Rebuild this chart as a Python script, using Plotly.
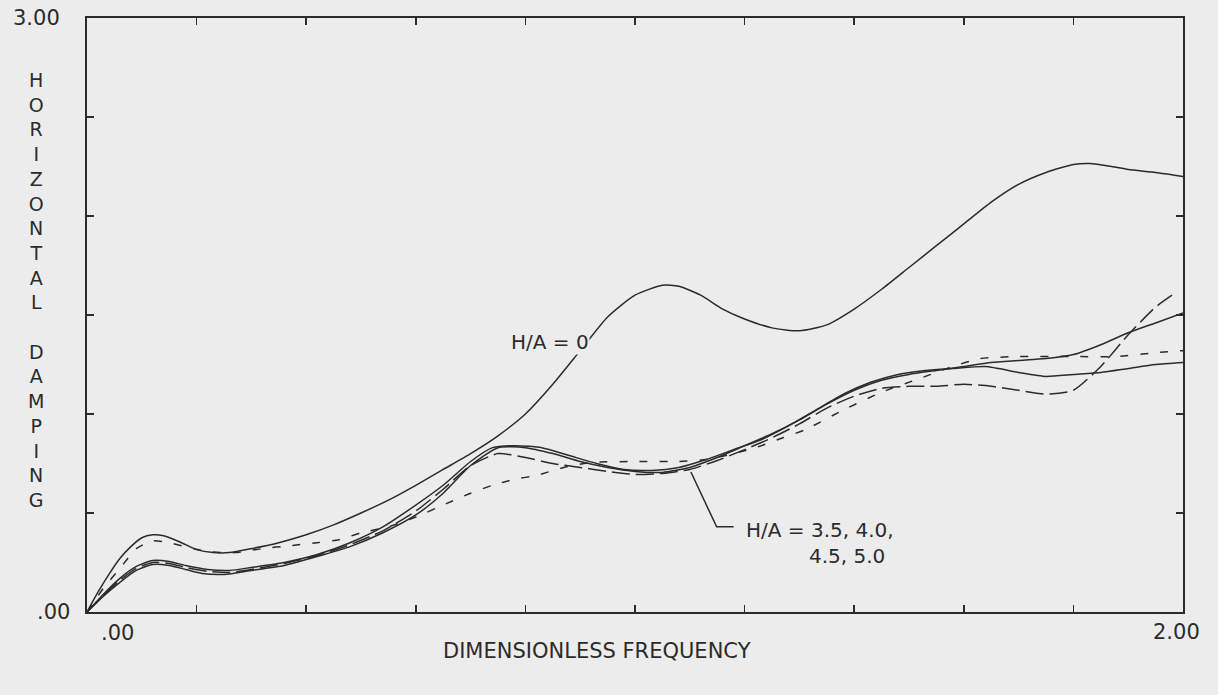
import plotly.graph_objects as go

# ---- data ----
x_h0 = [0.00, 0.02, 0.04, 0.06, 0.08, 0.10, 0.12, 0.14, 0.16, 0.18, 0.20, 0.23, 0.26, 0.30, 0.35,
        0.40, 0.45, 0.50, 0.55, 0.60, 0.65, 0.70, 0.75, 0.80, 0.85, 0.90, 0.95, 1.00, 1.05, 1.08,
        1.12, 1.16, 1.20, 1.25, 1.30, 1.35, 1.40, 1.45, 1.50, 1.55, 1.60, 1.65, 1.70, 1.75, 1.80,
        1.83, 1.87, 1.90, 1.95, 2.00]
y_h0 = [0.00, 0.10, 0.19, 0.27, 0.33, 0.375, 0.39, 0.385, 0.365, 0.34, 0.315, 0.30, 0.30, 0.32, 0.35,
        0.39, 0.44, 0.50, 0.565, 0.64, 0.72, 0.80, 0.89, 1.00, 1.15, 1.32, 1.49, 1.60, 1.65, 1.645,
        1.60, 1.53, 1.48, 1.435, 1.42, 1.45, 1.53, 1.63, 1.74, 1.85, 1.96, 2.07, 2.16, 2.22, 2.26,
        2.265, 2.25, 2.235, 2.22, 2.20]

x_h35 = [0.00, 0.03, 0.06, 0.09, 0.12, 0.15, 0.18, 0.21, 0.25, 0.30, 0.36, 0.42, 0.48, 0.54, 0.60,
         0.65, 0.70, 0.75, 0.80, 0.85, 0.90, 0.95, 1.00, 1.05, 1.10, 1.15, 1.20, 1.25, 1.30, 1.35,
         1.40, 1.45, 1.50, 1.55, 1.60, 1.65, 1.70, 1.75, 1.80, 1.85, 1.90, 1.95, 2.00]
y_h35 = [0.00, 0.08, 0.15, 0.21, 0.24, 0.235, 0.215, 0.195, 0.19, 0.21, 0.235, 0.28, 0.33, 0.40, 0.49,
         0.60, 0.74, 0.83, 0.83, 0.80, 0.76, 0.73, 0.71, 0.705, 0.73, 0.78, 0.84, 0.90, 0.97, 1.05,
         1.12, 1.17, 1.20, 1.22, 1.24, 1.26, 1.27, 1.28, 1.30, 1.35, 1.41, 1.46, 1.51]

x_h40 = [0.00, 0.03, 0.06, 0.09, 0.12, 0.15, 0.18, 0.22, 0.27, 0.32, 0.37, 0.42, 0.46, 0.50, 0.55,
         0.60, 0.65, 0.70, 0.74, 0.78, 0.82, 0.87, 0.92, 1.00, 1.08, 1.13, 1.18, 1.22, 1.27, 1.31,
         1.38, 1.45, 1.52, 1.58, 1.63, 1.70, 1.80, 1.88, 1.95, 2.00]
y_h40 = [0.00, 0.12, 0.22, 0.32, 0.36, 0.35, 0.33, 0.305, 0.30, 0.32, 0.335, 0.35, 0.365, 0.40, 0.43,
         0.48, 0.54, 0.60, 0.64, 0.67, 0.69, 0.73, 0.755, 0.76, 0.76, 0.77, 0.80, 0.83, 0.88, 0.92,
         1.02, 1.11, 1.18, 1.24, 1.28, 1.29, 1.29, 1.29, 1.31, 1.32]

x_h45 = [0.00, 0.03, 0.06, 0.09, 0.12, 0.15, 0.18, 0.22, 0.26, 0.30, 0.36, 0.42, 0.48, 0.54, 0.60,
         0.65, 0.70, 0.74, 0.78, 0.83, 0.88, 0.93, 0.98, 1.03, 1.08, 1.13, 1.18, 1.23, 1.28, 1.33,
         1.38, 1.43, 1.48, 1.53, 1.58, 1.64, 1.70, 1.75, 1.80, 1.85, 1.90, 1.95, 2.00]
y_h45 = [0.00, 0.09, 0.17, 0.23, 0.26, 0.255, 0.235, 0.215, 0.21, 0.225, 0.25, 0.29, 0.35, 0.43, 0.54,
         0.64, 0.76, 0.83, 0.84, 0.83, 0.79, 0.75, 0.72, 0.715, 0.73, 0.77, 0.82, 0.87, 0.94, 1.02,
         1.10, 1.16, 1.20, 1.22, 1.23, 1.24, 1.21, 1.19, 1.20, 1.21, 1.23, 1.25, 1.26]

x_h50 = [0.00, 0.03, 0.06, 0.09, 0.12, 0.15, 0.18, 0.22, 0.26, 0.30, 0.36, 0.42, 0.48, 0.54, 0.60,
         0.65, 0.70, 0.75, 0.80, 0.85, 0.90, 0.95, 1.00, 1.05, 1.10, 1.15, 1.20, 1.25, 1.30, 1.35,
         1.40, 1.45, 1.50, 1.55, 1.60, 1.65, 1.70, 1.75, 1.80, 1.85, 1.90, 1.95, 1.98]
y_h50 = [0.00, 0.085, 0.16, 0.22, 0.25, 0.245, 0.225, 0.205, 0.20, 0.215, 0.245, 0.285, 0.34, 0.41, 0.51,
         0.62, 0.74, 0.80, 0.78, 0.75, 0.73, 0.71, 0.695, 0.70, 0.72, 0.765, 0.82, 0.88, 0.95, 1.03,
         1.09, 1.13, 1.14, 1.14, 1.15, 1.14, 1.12, 1.10, 1.12, 1.24, 1.40, 1.54, 1.60]

# leader line for the H/A = 3.5 ... 5.0 label
leader_x = [1.102, 1.149, 1.18]
leader_y = [0.707, 0.43, 0.43]

x_ticks = [0.0, 0.2, 0.4, 0.6, 0.8, 1.0, 1.2, 1.4, 1.6, 1.8, 2.0]
y_ticks = [0.0, 0.5, 1.0, 1.5, 2.0, 2.5, 3.0]

INK = "#2b2b2b"
BG = "#ececec"
FONT = "DejaVu Sans"

fig = go.Figure()

series = [
    (x_h0, y_h0, "solid"),
    (x_h35, y_h35, "solid"),
    (x_h40, y_h40, "8px,12px"),
    (x_h45, y_h45, "solid"),
    (x_h50, y_h50, "18px,6px"),
]
for xs, ys, dash in series:
    fig.add_trace(go.Scatter(x=xs, y=ys, mode="lines", showlegend=False,
                             line=dict(color=INK, width=1.5, dash=dash, shape="spline", smoothing=0.6),
                             hoverinfo="skip"))

fig.add_trace(go.Scatter(x=leader_x, y=leader_y, mode="lines", showlegend=False,
                         line=dict(color=INK, width=1.5), hoverinfo="skip"))

axis_common = dict(showline=True, linecolor=INK, linewidth=2, mirror="ticks", ticks="inside",
                   ticklen=7, tickwidth=1.5, tickcolor=INK, showgrid=False, zeroline=False,
                   showticklabels=False, fixedrange=True)

fig.update_xaxes(range=[0, 2], tickvals=x_ticks, **axis_common)
fig.update_yaxes(range=[0, 3], tickvals=y_ticks, **axis_common)

tick_font = dict(family=FONT, size=21, color=INK)
label_font = dict(family=FONT, size=19, color=INK)
note_font = dict(family=FONT, size=20, color=INK)

annotations = [
    dict(text="3.00", x=-0.0228, y=1.0, xanchor="right", yanchor="middle", font=tick_font),
    dict(text=".00", x=-0.0137, y=0.0, xanchor="right", yanchor="middle", font=tick_font),
    dict(text=".00", x=0.028, y=-0.035, xanchor="center", yanchor="middle", font=tick_font),
    dict(text="2.00", x=0.9945, y=-0.034, xanchor="center", yanchor="middle", font=tick_font),
    dict(text="DIMENSIONLESS FREQUENCY", x=0.465, y=-0.066, xanchor="center", yanchor="middle",
         font=dict(family=FONT, size=21, color=INK)),
    dict(text="<br>".join(list("HORIZONTAL") + [""] + list("DAMPING")), x=-0.0465, y=0.542,
         xanchor="center", yanchor="middle", align="center", font=label_font),
]
for a in annotations:
    a.update(xref="paper", yref="paper", showarrow=False)

fig.add_annotation(text="H/A = 0", x=0.918, y=1.364, xref="x", yref="y", xanchor="right",
                   yanchor="middle", showarrow=False, bgcolor=BG, borderpad=0, font=note_font)
fig.add_annotation(text="H/A = 3.5, 4.0,", x=1.199, y=0.414, xref="x", yref="y", xanchor="left",
                   yanchor="middle", showarrow=False, font=note_font)
fig.add_annotation(text="4.5, 5.0", x=1.313, y=0.283, xref="x", yref="y", xanchor="left",
                   yanchor="middle", showarrow=False, font=note_font)

fig.update_layout(
    width=1218, height=695,
    margin=dict(l=87, r=35, t=18, b=83),
    paper_bgcolor=BG, plot_bgcolor=BG,
    annotations=list(fig.layout.annotations) + annotations,
)

fig.write_html(
    "out.html",
    config={"displayModeBar": False, "staticPlot": True},
    post_script="document.body.style.margin='0';document.body.style.background='" + BG + "';"
                "document.body.style.overflow='hidden';",
)
